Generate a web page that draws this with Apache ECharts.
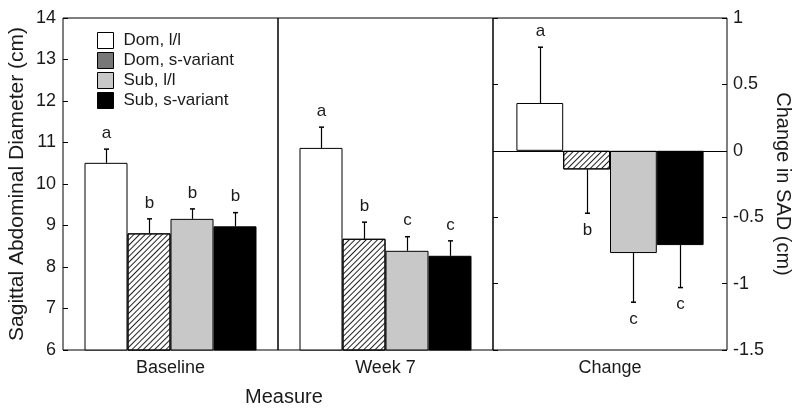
<!DOCTYPE html>
<html>
<head>
<meta charset="utf-8">
<script src="https://cdn.jsdelivr.net/npm/echarts@6/dist/echarts.min.js"></script>
<style>html,body{margin:0;padding:0;background:#fff;}#c{width:800px;height:412px;}</style>
</head>
<body>
<div id="c"></div>
<script>
// ---- data ----
var categories = ['Baseline', 'Week 7', 'Change'];
var seriesNames = ['Dom, l/l', 'Dom, s-variant', 'Sub, l/l', 'Sub, s-variant'];
var domLL  = [10.51, 10.87, 0.36];
var domS   = [8.81, 8.68, -0.14];
var subLL  = [9.16, 8.39, -0.77];
var subS   = [8.98, 8.27, -0.71];
var domLLErr = [0.33, 0.50, 0.42];
var domSErr  = [0.35, 0.40, 0.33];
var subLLErr = [0.24, 0.34, 0.37];
var subSErr  = [0.33, 0.36, 0.32];
var domLLLet = ['a', 'a', 'a'];
var domSLet  = ['b', 'b', 'b'];
var subLLLet = ['b', 'c', 'c'];
var subSLet  = ['b', 'c', 'c'];
var leftTicks = [6, 7, 8, 9, 10, 11, 12, 13, 14];
var rightTicks = [-1.5, -1, -0.5, 0, 0.5, 1];

var means = [domLL, domS, subLL, subS];
var errs = [domLLErr, domSErr, subLLErr, subSErr];
var lets = [domLLLet, domSLet, subLLLet, subSLet];

var FONT = "'Liberation Sans', Arial, Helvetica, sans-serif";
var TXT = '#1a1a1a';
var hatch = {symbol: 'rect', symbolSize: 1, dashArrayX: [1, 0], dashArrayY: [1, 3], rotation: -Math.PI / 4, color: '#222'};
var styles = [
  {color: '#ffffff', borderColor: '#000', borderWidth: 1},
  {color: '#ffffff', borderColor: '#000', borderWidth: 1, decal: hatch},
  {color: '#c8c8c8', borderColor: '#000', borderWidth: 1},
  {color: '#000000', borderColor: '#000', borderWidth: 1}
];

var grids = [
  {left: 63, top: 18, width: 215, bottom: 62},
  {left: 278, top: 18, width: 215, bottom: 62},
  {left: 493, top: 18, width: 234, bottom: 62}
].map(function (g) { g.show = true; g.borderColor = '#000'; g.borderWidth = 1; g.backgroundColor = 'transparent'; return g; });

var xAxes = categories.map(function (c, i) {
  return {
    type: 'category', gridIndex: i, data: [c],
    axisLine: {show: false}, axisTick: {show: false},
    axisLabel: {fontSize: 18, color: TXT, fontFamily: FONT, margin: 9}
  };
});

var yAxes = [
  {type: 'value', gridIndex: 0, min: leftTicks[0], max: leftTicks[leftTicks.length - 1], interval: 1,
   position: 'left', axisLine: {show: false}, splitLine: {show: false},
   axisTick: {show: true, inside: true, length: 5, lineStyle: {color: '#000'}},
   axisLabel: {fontSize: 18, color: TXT, fontFamily: FONT, margin: 7},
   name: 'Sagittal Abdominal Diameter (cm)', nameLocation: 'middle', nameRotate: 90, nameGap: 35,
   nameTextStyle: {fontSize: 21, color: TXT, fontFamily: FONT}},
  {type: 'value', gridIndex: 1, min: leftTicks[0], max: leftTicks[leftTicks.length - 1], interval: 1,
   axisLine: {show: false}, splitLine: {show: false}, axisTick: {show: false}, axisLabel: {show: false}},
  {type: 'value', gridIndex: 2, min: rightTicks[0], max: rightTicks[rightTicks.length - 1], interval: 0.5,
   position: 'right', axisLine: {show: false}, splitLine: {show: false},
   axisTick: {show: true, inside: true, length: 5, lineStyle: {color: '#000'}},
   axisLabel: {fontSize: 18, color: TXT, fontFamily: FONT, margin: 6},
   name: 'Change in SAD (cm)', nameLocation: 'middle', nameRotate: -90, nameGap: 46,
   nameTextStyle: {fontSize: 20, color: TXT, fontFamily: FONT}},
  {type: 'value', gridIndex: 2, min: rightTicks[0], max: rightTicks[rightTicks.length - 1], interval: 0.5,
   position: 'left', axisLine: {show: false}, splitLine: {show: false},
   axisTick: {show: true, inside: true, length: 5, lineStyle: {color: '#000'}}, axisLabel: {show: false}}
];
var yIndexForGrid = [0, 1, 2];

var series = [];
categories.forEach(function (cat, gi) {
  seriesNames.forEach(function (nm, si) {
    var s = {
      type: 'bar', name: nm, xAxisIndex: gi, yAxisIndex: yIndexForGrid[gi],
      data: [means[si][gi]], barGap: '0%', barCategoryGap: '20%',
      itemStyle: styles[si], emphasis: {disabled: true}, silent: true, animation: false
    };
    if (gi === 2 && si === 0) {
      s.markLine = {silent: true, symbol: ['none', 'none'], label: {show: false},
        lineStyle: {color: '#000', type: 'solid', width: 1}, data: [{yAxis: 0}], animation: false};
    }
    series.push(s);
  });
  // error bars + letters
  var ed = seriesNames.map(function (nm, si) {
    return [0, si, means[si][gi], errs[si][gi], lets[si][gi]];
  });
  series.push({
    type: 'custom', xAxisIndex: gi, yAxisIndex: yIndexForGrid[gi], z: 10, silent: true, animation: false,
    data: ed,
    renderItem: function (params, api) {
      var m = api.value(2), e = api.value(3), k = api.value(1);
      var letter = ed[params.dataIndex][4];
      var sign = m >= 0 ? 1 : -1;
      var base = api.coord([0, m]);
      var tip = api.coord([0, m + sign * e]);
      var band = api.size([1, 0])[0];
      var bw = band * 0.2;
      var x = Math.round(base[0] - band * 0.4 + (k + 0.5) * bw) + 0.5;
      var ty = sign > 0 ? tip[1] - 16 : tip[1] + 17;
      return {
        type: 'group',
        children: [
          {type: 'line', shape: {x1: x, y1: base[1], x2: x, y2: tip[1]}, style: {stroke: '#000', lineWidth: 1.2}},
          {type: 'line', shape: {x1: x - 2.5, y1: tip[1], x2: x + 2.5, y2: tip[1]}, style: {stroke: '#000', lineWidth: 1.5}},
          {type: 'text', style: {text: letter, x: x, y: ty, align: 'center', verticalAlign: 'middle',
            fontSize: 17, fontFamily: FONT, fill: TXT}}
        ]
      };
    }
  });
});

var chart = echarts.init(document.getElementById('c'), null, {renderer: 'canvas'});
chart.setOption({
  backgroundColor: '#fff',
  animation: false,
  grid: grids,
  xAxis: xAxes,
  yAxis: yAxes,
  legend: {
    orient: 'vertical', left: 92, top: 27, itemWidth: 16, itemHeight: 16, itemGap: 3,
    selectedMode: false, icon: 'rect',
    itemStyle: {borderColor: '#000', borderWidth: 1},
    textStyle: {fontSize: 17, color: TXT, fontFamily: FONT, padding: [0, 0, 0, 5]},
    data: [
      {name: seriesNames[0], itemStyle: {color: '#ffffff', borderColor: '#000', borderWidth: 1}},
      {name: seriesNames[1], itemStyle: {color: '#777777', borderColor: '#000', borderWidth: 1, decal: 'none'}},
      {name: seriesNames[2], itemStyle: {color: '#c8c8c8', borderColor: '#000', borderWidth: 1}},
      {name: seriesNames[3], itemStyle: {color: '#000000', borderColor: '#000', borderWidth: 1}}
    ]
  },
  graphic: [
    {type: 'text', left: 245, top: 387, silent: true,
     style: {text: 'Measure', fontSize: 20, fontFamily: FONT, fill: TXT}}
  ],
  series: series
});
</script>
</body>
</html>
